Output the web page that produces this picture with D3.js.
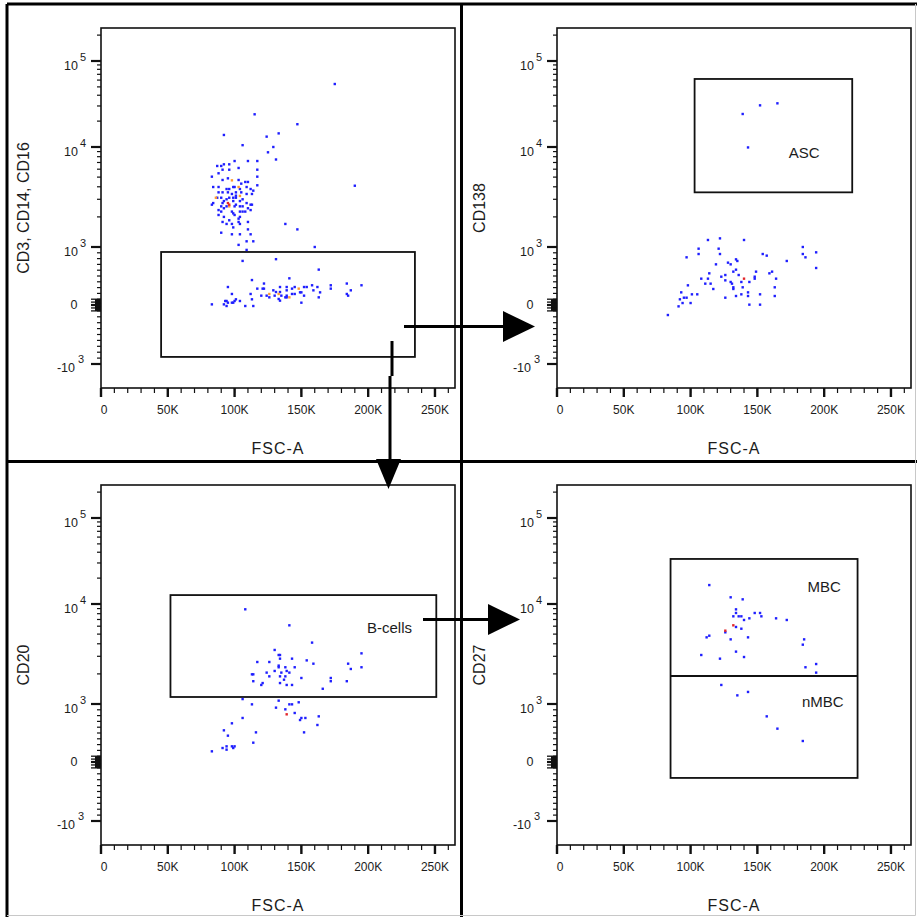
<!DOCTYPE html>
<html>
<head>
<meta charset="utf-8">
<title>B-cell gating</title>
<script src="https://cdn.jsdelivr.net/npm/d3@7"></script>
<style>
  body { margin: 0; background: #fff; }
  text { font-family: "Liberation Sans", Arial, sans-serif; fill: #1c1c1c; }
</style>
</head>
<body>
<script>
// events: [FSC-A in thousands, marker intensity]
var tlBlue = [[175,54000],[115,24000],[147,18400],[92,13800],[133,14400],[124,13200],[106,10500],[129,10000],[125,8850],[131,7500],[190,4100],[138,1700],[147,1500],[160,1000],[131,790],[106,760],
  [87,6460],[90,6460],[92,6710],[96,6710],[100,7240],[110,7240],[117,7240],
  [88,5460],[91,5930],[96,5930],[103,6170],[117,5930],[83,5050],[117,5050],
  [91,4680],[95,4860],[103,4680],[105,4300],[108,4470],[110,4470],[117,4140],
  [84,3980],[88,3980],[94,3800],[96,3800],[99,3980],[100,3980],[104,3800],[109,3980],[112,3800],[114,3660],
  [88,3520],[91,3520],[95,3520],[98,3390],[101,3520],[101,3260],[105,3520],[109,3390],[113,3390],
  [87,3110],[90,3110],[94,3000],[96,3110],[99,3110],[101,3110],[106,3000],
  [84,2750],[91,2750],[92,2880],[99,2880],[101,2650],[104,2880],[109,2750],[112,2650],[113,2650],
  [83,2650],[90,2550],[94,2550],[100,2550],[104,2550],[106,2550],[110,2440],[112,2340],
  [88,2340],[90,2260],[92,2440],[98,2260],[99,2170],[104,2260],[106,2260],[108,2260],
  [88,2090],[100,2090],[103,1920],[104,2000],[92,2000],
  [91,1780],[96,1850],[103,1780],[110,1780],[94,1700],[98,1700],[104,1700],[99,1570],
  [110,1500],[90,1390],[98,1340],[104,1340],[112,1340],[109,1140],[114,1140],[103,1050],[109,950],
  [163,610],[113,430],[141,460],[95,310],[117,282],[121,282],[122,282],[134,310],[139,310],[145,310],[152,310],[154,310],[158,340],[162,310],[172,340],[184,370],[195,340],[122,370],
  [129,253],[131,224],[134,224],[139,253],[143,282],[159,253],[164,218],[172,282],[187,253],
  [98,190],[112,190],[120,161],[124,161],[130,161],[135,161],[139,161],[143,190],[145,190],[149,218],[150,218],[152,161],[163,132],[184,190],[185,161],
  [93,69],[94,69],[92,11],[95,40],[98,40],[99,40],[100,69],[101,98],[104,69],[113,98],[126,132],[133,104],[134,75],[138,132],[139,132],[150,40],[83,11],[94,-17],[108,-17],[114,-17]];
var tlOrange = [[98,4640],[103,3980],[86,3110],[104,3240],[96,2550],[148,282],[126,190],[133,190],[141,132]];
var tlRed = [[95,2750],[96,2650]];

var trBlue = [[152,30500],[165,32200],[139,24200],[143,9900],
  [113,1175],[122,1220],[140,1175],[106,971],[121,971],[184,1000],[106,879],[122,879],[184,879],[194,908],[97,822],[154,879],[157,851],[186,822],
  [134,787],[135,759],[172,759],[128,730],[130,701],[119,701],[194,638],[134,609],[114,546],[132,575],[149,575],[161,575],[159,546],
  [108,454],[113,454],[123,488],[126,517],[136,517],[148,488],[148,454],[164,454],[126,425],[130,397],[111,368],[115,368],[138,397],[144,397],[131,368],
  [98,339],[117,276],[132,305],[132,276],[139,305],[163,305],[93,218],[101,184],[105,184],[138,184],[143,218],[152,184],
  [92,98],[95,126],[97,126],[126,126],[134,155],[143,155],[163,155],[94,34],[100,34],[144,6],[152,6],[91,-23],[83,-170]];
var trRed = [[140,454]];

var blBlue = [[108,8850],[141,6120],[158,4110],[195,3210],[130,3470],[133,3090],[134,3090],[117,2630],[126,2630],[134,2840],[143,2840],[154,2730],[159,2530],[185,2530],
  [133,2420],[133,2330],[187,2240],[195,2330],[138,2330],[145,2330],[130,2140],[124,2060],[135,2060],[139,2140],[141,2060],[113,1980],[114,1980],
  [126,1890],[134,1890],[138,1890],[150,1820],[137,1750],[172,1820],[172,1690],[114,1690],[184,1690],[134,1620],[121,1620],[120,1550],[139,1550],[143,1550],[166,1420],
  [106,1120],[133,1080],[148,1040],[113,994],[141,994],[143,994],[131,937],[138,908],[145,845],[106,759],[149,724],[150,759],[153,759],[163,787],
  [98,667],[162,638],[92,546],[116,511],[95,454],[152,511],[114,333],[91,241],[94,270],[98,270],[99,241],[100,270],[94,213],[83,184]];
var blRed = [[139,822]];

var brBlue = [[114,16600],[130,11960],[139,11330],[134,8840],[134,8130],[148,8130],[152,8130],[132,7530],[136,7530],[138,7530],[144,7190],[153,7530],[140,6920],[164,7190],[172,6920],
  [134,5890],[138,5660],[126,5210],[114,4820],[112,4640],[130,4430],[143,4640],[185,4430],[184,3920],[134,3340],[108,3090],[122,2840],[140,2950],[186,2330],[194,2510],[194,2060],
  [123,1550],[135,1220],[143,1320],[157,787],[165,575],[184,362]];
var brRed = [[132,6120],[126,5410]];

// gates: [fsc0, fsc1, lo, hi]
var tlGate = [45, 235, -880, 914];
var trGate = [103, 221, 3520, 61800];
var blGate = [52, 251, 1175, 12700];
var brGate = [85, 225, -270, 33400];
var brSplit = 1905;

var yTitles = ["CD3, CD14, CD16", "CD138", "CD20", "CD27"];
var xTicks = [0, 50, 100, 150, 200, 250];

var width = 917, height = 917;
var svg = d3.select("body").append("svg").attr("width", width).attr("height", height);

// biexponential-like display: linear around zero, log above 10^3
function bx(v) { return Math.abs(v) <= 1000 ? 3 * v / 1000 : Math.sign(v) * Math.log10(Math.abs(v)); }

var fw = 354, fh = 360;
var x = d3.scaleLinear().domain([0, 265]).range([0, fw]);
var y = d3.scaleLinear().domain([-3, 0, 3, 4, 5]).range([336, 277, 219, 119, 33]);
function py(v) { return y(bx(v)); }

var panels = [
  {ox: 0, oy: 0, title: yTitles[0], blue: tlBlue, orange: tlOrange, red: tlRed, gate: tlGate, labels: []},
  {ox: 456, oy: 0, title: yTitles[1], blue: trBlue, orange: [], red: trRed, gate: trGate, labels: [["ASC", 185, 8700]]},
  {ox: 0, oy: 457, title: yTitles[2], blue: blBlue, orange: [], red: blRed, gate: blGate, labels: [["B-cells", 216, 5750]]},
  {ox: 456, oy: 457, title: yTitles[3], blue: brBlue, orange: [], red: brRed, gate: brGate, split: brSplit,
   labels: [["MBC", 200, 15800], ["nMBC", 199, 1050]]}
];

var yMinor = [];
[3, 4, 5].forEach(function (k) {
  for (var m = 2; m <= 9; m++) if (bx(m * Math.pow(10, k)) < 5.38) yMinor.push(m * Math.pow(10, k));
});
for (var m = 1; m <= 9; m++) { yMinor.push(m * 100, -m * 100); }
var yBlob = [];
for (var m = 1; m <= 10; m++) { yBlob.push(m * 10, -m * 10); }

var xMinor = d3.range(0, 261, 10);

panels.forEach(function (p) {
  var g = svg.append("g").attr("transform", "translate(" + (p.ox + 101) + "," + (p.oy + 28) + ")");

  g.append("rect").attr("width", fw).attr("height", fh)
    .attr("fill", "none").attr("stroke", "#111").attr("stroke-width", 1.6);

  // y ticks
  g.selectAll(".ymin").data(yMinor).enter().append("line")
    .attr("x1", -4).attr("x2", 0).attr("y1", py).attr("y2", py)
    .attr("stroke", "#111").attr("stroke-width", 1.2);
  g.selectAll(".yblob").data(yBlob).enter().append("line")
    .attr("x1", function (d) { return Math.abs(d) % 50 === 0 ? -10 : -6; }).attr("x2", 0)
    .attr("y1", py).attr("y2", py)
    .attr("stroke", "#111").attr("stroke-width", 1.3);
  g.selectAll(".ymaj").data([-1000, 0, 1000, 10000, 100000]).enter().append("line")
    .attr("x1", -10).attr("x2", 0).attr("y1", py).attr("y2", py)
    .attr("stroke", "#111").attr("stroke-width", 2.2);

  // y tick labels
  [[1000, "10", "3"], [10000, "10", "4"], [100000, "10", "5"]].forEach(function (t) {
    var ty = py(t[0]);
    g.append("text").attr("x", -23).attr("y", ty + 9).attr("text-anchor", "end")
      .attr("font-size", 12.5).text(t[1]);
    g.append("text").attr("x", -21).attr("y", ty).attr("font-size", 11).text(t[2]);
  });
  g.append("text").attr("x", -27).attr("y", py(0) + 4).attr("text-anchor", "middle")
    .attr("font-size", 12.5).text("0");
  g.append("text").attr("x", -26).attr("y", py(-1000) + 8).attr("text-anchor", "end")
    .attr("font-size", 12.5).text("-10");
  g.append("text").attr("x", -23).attr("y", py(-1000) - 1).attr("font-size", 11).text("3");

  // x ticks
  g.selectAll(".xmin").data(xMinor).enter().append("line")
    .attr("x1", x).attr("x2", x).attr("y1", fh).attr("y2", fh + 5)
    .attr("stroke", "#111").attr("stroke-width", 1.2);
  g.selectAll(".xmaj").data(xTicks).enter().append("line")
    .attr("x1", x).attr("x2", x).attr("y1", fh).attr("y2", fh + 9)
    .attr("stroke", "#111").attr("stroke-width", 2.4);
  g.selectAll(".xlab").data(xTicks).enter().append("text")
    .attr("x", function (d) { return x(d) + (d === 0 ? 3 : 0); }).attr("y", fh + 26)
    .attr("text-anchor", "middle").attr("font-size", 12)
    .text(function (d) { return d === 0 ? "0" : d + "K"; });

  // axis titles
  g.append("text").attr("x", fw / 2).attr("y", 426).attr("text-anchor", "middle")
    .attr("font-size", 16).attr("letter-spacing", 1).text("FSC-A");
  g.append("text").attr("transform", "translate(-78," + (fh / 2) + ") rotate(-90)")
    .attr("dy", "0.36em").attr("text-anchor", "middle").attr("font-size", 16).text(p.title);

  // gates
  var gt = p.gate;
  g.append("rect").attr("x", x(gt[0])).attr("y", py(gt[3]))
    .attr("width", x(gt[1]) - x(gt[0])).attr("height", py(gt[2]) - py(gt[3]))
    .attr("fill", "none").attr("stroke", "#111").attr("stroke-width", 1.8);
  if (p.split) {
    g.append("line").attr("x1", x(gt[0])).attr("x2", x(gt[1]))
      .attr("y1", py(p.split)).attr("y2", py(p.split))
      .attr("stroke", "#111").attr("stroke-width", 1.8);
  }
  p.labels.forEach(function (l) {
    g.append("text").attr("x", x(l[1])).attr("y", py(l[2])).attr("dy", "0.36em")
      .attr("text-anchor", "middle").attr("font-size", 15).text(l[0]);
  });

  // events
  [[p.blue, "#1f1fff"], [p.orange, "#ff9a30"], [p.red, "#e3262a"]].forEach(function (s) {
    g.selectAll(null).data(s[0]).enter().append("rect")
      .attr("x", function (d) { return x(d[0]) - 1.2; })
      .attr("y", function (d) { return py(d[1]) - 1.2; })
      .attr("width", 2.4).attr("height", 2.4).attr("fill", s[1]);
  });
});

// panel borders
var borders = [[7, 4, 917, 4], [7, 4, 7, 917], [461.5, 4, 461.5, 917], [7, 461.5, 917, 461.5]];
svg.selectAll(".border").data(borders).enter().append("line")
  .attr("x1", function (d) { return d[0]; }).attr("y1", function (d) { return d[1]; })
  .attr("x2", function (d) { return d[2]; }).attr("y2", function (d) { return d[3]; })
  .attr("stroke", "#000").attr("stroke-width", 3);
svg.append("path").attr("d", "M915.5,4V915.5H7").attr("fill", "none")
  .attr("stroke", "#c8c8c8").attr("stroke-width", 1);

// arrows between panels
var arrowLines = [[404, 326.5, 505, 326.5], [392, 341, 392, 376], [390, 376, 390, 462], [423, 619.5, 489, 619.5]];
var arrowHeads = [[[503, 311], [503, 342], [535, 326.5]], [[376, 459], [401, 459], [388.5, 489]], [[488, 604], [488, 635], [520, 619.5]]];
svg.selectAll(".aline").data(arrowLines).enter().append("line")
  .attr("x1", function (d) { return d[0]; }).attr("y1", function (d) { return d[1]; })
  .attr("x2", function (d) { return d[2]; }).attr("y2", function (d) { return d[3]; })
  .attr("stroke", "#000").attr("stroke-width", 3);
svg.selectAll(".ahead").data(arrowHeads).enter().append("path")
  .attr("d", function (d) { return "M" + d.join("L") + "Z"; }).attr("fill", "#000");
</script>
</body>
</html>
